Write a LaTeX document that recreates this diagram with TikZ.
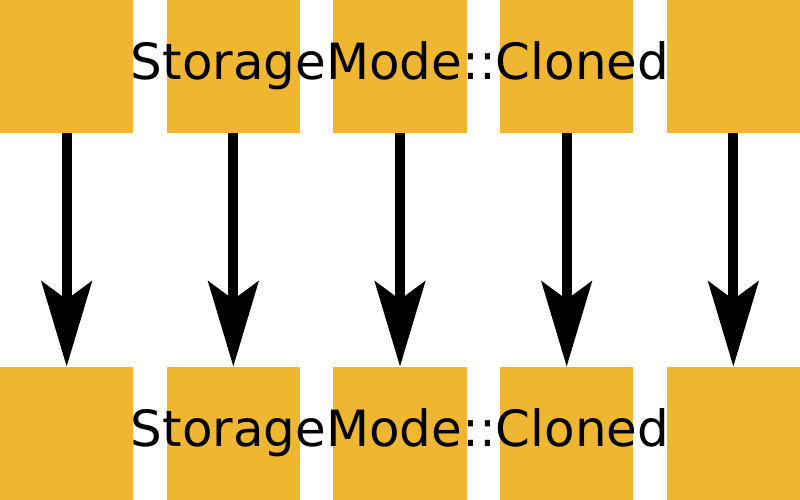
\documentclass[tikz,border=0pt]{standalone}
\usepackage{fontspec}
\setmainfont{DejaVu Sans}
\usetikzlibrary{arrows.meta}
\definecolor{cloneyellow}{HTML}{EFB631}
\begin{document}
\begin{tikzpicture}[x=0.01cm,y=0.01cm,
    box/.style={fill=cloneyellow, minimum size=1.3333cm, inner sep=0pt, outer sep=0pt},
    copyarrow/.style={line width=0.1cm, -{Stealth[length=0.85cm,width=0.5cm,inset=0.18cm]}},
    modelabel/.style={anchor=base, inner sep=0pt, font=\fontsize{14.2}{17}\selectfont}]
        \useasboundingbox (0,0) rectangle (800,500);

        % source row, copy row and one arrow per element
        \foreach \i in {1,...,5} {
            \node[box] (src\i) at ({166.667*(\i-1)+66.667}, 433.333) {};
            \node[box] (dst\i) at ({166.667*(\i-1)+66.667}, 66.667) {};
            \draw[copyarrow] (src\i) -- (dst\i);
        }

        \node[modelabel] (srclabel) at (400, 420) {StorageMode::Cloned};
        \node[modelabel] (dstlabel) at (400, 53) {StorageMode::Cloned};
    \end{tikzpicture}
\end{document}
